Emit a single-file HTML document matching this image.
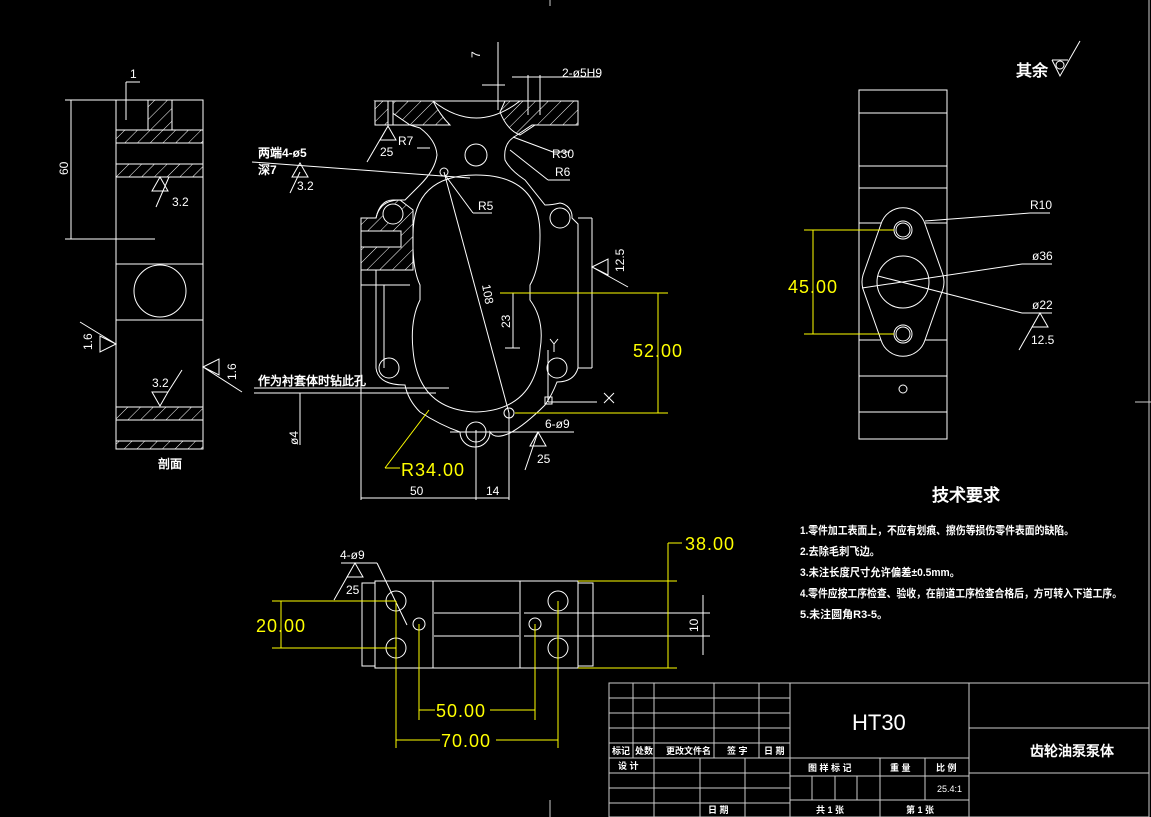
<!DOCTYPE html>
<html><head><meta charset="utf-8"><style>
html,body{margin:0;padding:0;background:#000;}
svg{display:block}
text{font-family:"Liberation Sans","Noto Sans CJK SC",sans-serif;fill:#fff}
.w{stroke:#fff;fill:none;stroke-width:1}
.g{stroke:#ccc;fill:none;stroke-width:1}
.y{stroke:#ff0;fill:none;stroke-width:1}
.yt{fill:#ff0;font-size:18px;letter-spacing:1px}
.s{font-size:12px}
.c{font-family:"Liberation Sans","WenQuanYi Zen Hei",sans-serif;font-weight:bold}
</style></head><body>
<svg width="1151" height="817" viewBox="0 0 1151 817" xmlns="http://www.w3.org/2000/svg">
<defs>
<pattern id="h" width="9" height="9" patternUnits="userSpaceOnUse" patternTransform="rotate(45)">
<line x1="0" y1="0" x2="0" y2="9" stroke="#fff" stroke-width="1"/></pattern>
</defs>
<rect width="1151" height="817" fill="#000"/>
<line x1="550" y1="0" x2="550" y2="6" class="g"/>
<line x1="550" y1="800" x2="550" y2="817" class="g"/>
<line x1="1149" y1="0" x2="1149" y2="817" class="g"/>
<line x1="1135" y1="402" x2="1151" y2="402" class="g"/>

<!-- LEFT VIEW -->
<g class="w">
<rect x="116" y="100" width="87" height="349"/>
<rect x="116" y="130" width="87" height="13" fill="url(#h)"/>
<rect x="116" y="164" width="87" height="13" fill="url(#h)"/>
<path d="M148 100 V130 H172 V100 Z" fill="url(#h)"/>
<line x1="116" y1="264" x2="203" y2="264"/>
<line x1="116" y1="320" x2="203" y2="320"/>
<circle cx="160" cy="291" r="26"/>
<rect x="116" y="407" width="87" height="13" fill="url(#h)"/>
<rect x="116" y="441" width="87" height="8" fill="url(#h)"/>
<line x1="65" y1="100" x2="116" y2="100"/>
<line x1="65" y1="239" x2="155" y2="239"/>
<line x1="71" y1="100" x2="71" y2="239"/>
<line x1="126" y1="82" x2="126" y2="120"/><line x1="126" y1="82" x2="140" y2="82"/>
<path d="M160 177 l-8 14 h16 z M156 207 L169 177"/>
<path d="M116 344 l-16 -8 v16 z M80 322 L116 344"/>
<path d="M203 367 l16 -8 v16 z M242 392 L203 367"/>
<path d="M160 406 l-8 -14 h16 z M168 392 L182 370"/>
</g>
<text x="130" y="78" class="s">1</text>
<text x="68" y="175" class="s" transform="rotate(-90 68 175)">60</text>
<text x="172" y="206" class="s">3.2</text>
<text x="92" y="350" class="s" transform="rotate(-90 92 350)">1.6</text>
<text x="236" y="380" class="s" transform="rotate(-90 236 380)">1.6</text>
<text x="152" y="387" class="s">3.2</text>
<text x="158" y="468" class="s c">剖面</text>

<!-- MIDDLE VIEW -->
<g class="w">
<path d="M375 101 H433 Q476 135 520 101 H578 V125 H532 L514 137 Q503 144 505 160 Q510 170 525 180 L545 205 Q552 205 560 203 A14 14 0 0 1 572 218 L578 224 V368 Q574 382 557 382 Q552 395 545 405 Q525 425 510 433 Q495 440 490 432 A12 12 0 0 1 460 432 Q440 425 420 412 Q408 400 405 385 Q378 385 376 368 V270 H361 V218 H376 Q380 200 393 200 L405 200 L420 185 Q435 170 437 155 Q436 140 420 128 L410 125 H375 Z"/>
<line x1="433" y1="101" x2="520" y2="101"/>
<path d="M375 101 H433 Q440 115 450 125 H410 Z" fill="url(#h)"/>
<rect x="375" y="101" width="18" height="24" fill="#000"/>
<path d="M375 101 H388 V125 H375 Z" fill="url(#h)"/>
<path d="M505 101 H578 V125 H535 L520 135 Q507 130 500 112 Z" fill="url(#h)"/>
<path d="M361 218 H376 Q380 200 400 200 L413 210 V270 H361 Z" fill="url(#h)"/>
<rect x="361" y="231" width="40" height="16" fill="#000"/>
<rect x="361" y="231" width="40" height="16"/>
<circle cx="393" cy="214" r="10" fill="#000"/>
<path d="M476 175 Q540 175 540 235 Q540 268 530 285 V300 Q545 320 540 350 Q535 410 476 412 Q418 410 413 350 Q410 320 420 300 V285 Q412 268 413 235 Q413 175 476 175 Z"/>
<circle cx="476" cy="155" r="11"/>
<circle cx="560" cy="218" r="10"/>
<circle cx="389" cy="368" r="10"/>
<circle cx="557" cy="368" r="10"/>
<circle cx="476" cy="432" r="10"/>
<circle cx="509" cy="413" r="5"/>
<circle cx="444" cy="172" r="4"/>
<line x1="361" y1="270" x2="361" y2="500"/>
<line x1="384" y1="285" x2="384" y2="368"/>
<line x1="361" y1="285" x2="410" y2="285"/>
<line x1="578" y1="218" x2="592" y2="218"/>
<line x1="592" y1="218" x2="592" y2="368"/>
<line x1="578" y1="368" x2="592" y2="368"/>
<line x1="509" y1="413" x2="509" y2="500"/>
<line x1="476" y1="430" x2="476" y2="500"/>
<line x1="444" y1="172" x2="509" y2="413"/>
<line x1="361" y1="498" x2="509" y2="498"/>
<line x1="500" y1="293" x2="520" y2="293"/><line x1="513" y1="293" x2="513" y2="348"/><line x1="505" y1="348" x2="520" y2="348"/>
<line x1="548" y1="350" x2="548" y2="402"/><line x1="548" y1="402" x2="597" y2="402"/>
<rect x="545" y="397" width="7" height="7"/>
<path d="M604 393 l10 10 M614 393 l-10 10 M550 339 l4 5 4 -5 M554 344 v8"/>
<line x1="498" y1="42" x2="498" y2="110"/><line x1="482" y1="85" x2="505" y2="85"/>
<line x1="512" y1="77" x2="600" y2="77"/><line x1="528" y1="75" x2="528" y2="115"/><line x1="540" y1="75" x2="540" y2="115"/>
<line x1="252" y1="162" x2="470" y2="178"/>
<path d="M300 163 l-8 14 h16 z M290 193 L300 172"/>
<line x1="417" y1="148" x2="430" y2="148"/>
<line x1="445" y1="175" x2="473" y2="213"/><line x1="473" y1="213" x2="492" y2="213"/>
<line x1="513" y1="137" x2="553" y2="152"/><line x1="553" y1="152" x2="570" y2="152"/>
<line x1="510" y1="150" x2="548" y2="180"/><line x1="548" y1="180" x2="570" y2="180"/>
<path d="M388 126 l-8 14 h16 z M367 162 L388 126"/>
<path d="M592 267 l16 -8 v16 z M628 287 L592 267"/>
<path d="M538 432 l-8 14 h16 z M525 470 L538 432"/>
<line x1="450" y1="432" x2="574" y2="432"/>
<line x1="254" y1="388" x2="449" y2="388"/><line x1="254" y1="393" x2="436" y2="393"/>
<line x1="300" y1="393" x2="300" y2="445"/>
</g>
<g class="y">
<line x1="500" y1="293" x2="668" y2="293"/>
<line x1="515" y1="413" x2="668" y2="413"/>
<line x1="658" y1="293" x2="658" y2="413"/>
<line x1="429" y1="410" x2="385" y2="468"/><line x1="385" y1="468" x2="400" y2="468"/>
</g>
<text x="490" y="48" class="s" transform="rotate(-90 490 58)">7</text>
<text x="562" y="77" class="s">2-ø5H9</text>
<text x="398" y="145" class="s">R7</text>
<text x="380" y="156" class="s">25</text>
<text x="552" y="158" class="s">R30</text>
<text x="555" y="176" class="s">R6</text>
<text x="478" y="210" class="s">R5</text>
<text x="258" y="157" class="s c">两端4-ø5</text>
<text x="258" y="174" class="s c">深7</text>
<text x="297" y="190" class="s">3.2</text>
<text x="482" y="285" class="s" transform="rotate(80 482 285)">108</text>
<text x="510" y="328" class="s" transform="rotate(-90 510 328)">23</text>
<text x="624" y="272" class="s" transform="rotate(-90 624 272)">12.5</text>
<text x="258" y="385" class="s c">作为衬套体时钻此孔</text>
<text x="298" y="445" class="s" transform="rotate(-90 298 445)">ø4</text>
<text x="545" y="428" class="s">6-ø9</text>
<text x="537" y="463" class="s">25</text>
<text x="410" y="495" class="s">50</text>
<text x="486" y="495" class="s">14</text>
<text x="401" y="476" class="yt">R34.00</text>
<text x="633" y="357" class="yt">52.00</text>

<!-- RIGHT VIEW -->
<g class="w">
<rect x="859" y="90" width="88" height="349"/>
<line x1="859" y1="113" x2="947" y2="113"/>
<line x1="859" y1="166" x2="947" y2="166"/>
<line x1="859" y1="188" x2="947" y2="188"/>
<line x1="859" y1="223" x2="947" y2="223"/>
<line x1="859" y1="340" x2="947" y2="340"/>
<line x1="859" y1="376" x2="947" y2="376"/>
<line x1="859" y1="412" x2="947" y2="412"/>
<path d="M881 224 A23 23 0 0 1 925 224 L943 275 Q945 282 943 289 L925 340 A23 23 0 0 1 881 340 L863 289 Q861 282 863 275 Z" fill="#000"/>
<circle cx="903" cy="230" r="9"/><circle cx="903" cy="230" r="7"/>
<circle cx="903" cy="334" r="9"/><circle cx="903" cy="334" r="7"/>
<circle cx="903" cy="282" r="26"/>
<circle cx="903" cy="389" r="4"/>
<line x1="925" y1="221" x2="1030" y2="213"/><line x1="1030" y1="213" x2="1050" y2="213"/>
<line x1="862" y1="288" x2="1022" y2="264"/><line x1="1022" y1="264" x2="1052" y2="264"/>
<line x1="878" y1="276" x2="1022" y2="313"/><line x1="1022" y1="313" x2="1052" y2="313"/>
<path d="M1040 313 l-8 14 h16 z M1019 350 L1040 313"/>
<path d="M1052 60 L1060 76 L1080 41 M1052 60 L1068 60"/>
<circle cx="1060" cy="65" r="4"/>
</g>
<g class="y">
<line x1="804" y1="230" x2="894" y2="230"/>
<line x1="804" y1="334" x2="894" y2="334"/>
<line x1="813" y1="230" x2="813" y2="334"/>
</g>
<text x="1030" y="209" class="s">R10</text>
<text x="1032" y="260" class="s">ø36</text>
<text x="1032" y="309" class="s">ø22</text>
<text x="1031" y="344" class="s">12.5</text>
<text x="788" y="293" class="yt">45.00</text>
<text x="1016" y="76" class="c" style="font-size:16px">其余</text>

<!-- BOTTOM VIEW -->
<g class="w">
<rect x="375" y="581" width="203" height="87"/>
<rect x="362" y="583" width="13" height="83"/>
<rect x="578" y="583" width="15" height="83"/>
<line x1="433" y1="581" x2="433" y2="668"/>
<line x1="520" y1="581" x2="520" y2="668"/>
<line x1="434" y1="613" x2="519" y2="613"/><line x1="434" y1="636" x2="519" y2="636"/>
<line x1="524" y1="613" x2="710" y2="613"/><line x1="524" y1="636" x2="710" y2="636"/>
<line x1="703" y1="595" x2="703" y2="655"/>
<circle cx="396" cy="601" r="10"/><circle cx="396" cy="648" r="10"/>
<circle cx="558" cy="601" r="10"/><circle cx="558" cy="648" r="10"/>
<circle cx="419" cy="624" r="6"/><circle cx="535" cy="624" r="6"/>
<line x1="341" y1="563" x2="377" y2="563"/><line x1="377" y1="563" x2="407" y2="625"/>
<path d="M355 563 l-8 14 h16 z M334 600 L355 563"/>
</g>
<g class="y">
<line x1="272" y1="601" x2="396" y2="601"/><line x1="272" y1="648" x2="396" y2="648"/>
<line x1="281" y1="601" x2="281" y2="648"/>
<line x1="578" y1="581" x2="677" y2="581"/><line x1="578" y1="668" x2="677" y2="668"/>
<line x1="668" y1="543" x2="668" y2="668"/><line x1="668" y1="543" x2="682" y2="543"/>
<line x1="419" y1="624" x2="419" y2="720"/><line x1="535" y1="624" x2="535" y2="720"/>
<line x1="419" y1="710" x2="435" y2="710"/><line x1="490" y1="710" x2="535" y2="710"/>
<line x1="396" y1="601" x2="396" y2="748"/><line x1="558" y1="601" x2="558" y2="748"/>
<line x1="396" y1="740" x2="440" y2="740"/><line x1="496" y1="740" x2="558" y2="740"/>
</g>
<text x="340" y="559" class="s">4-ø9</text>
<text x="346" y="594" class="s">25</text>
<text x="698" y="632" class="s" transform="rotate(-90 698 632)">10</text>
<text x="256" y="632" class="yt">20.00</text>
<text x="685" y="550" class="yt">38.00</text>
<text x="436" y="717" class="yt">50.00</text>
<text x="441" y="747" class="yt">70.00</text>

<!-- TECH REQUIREMENTS -->
<text x="932" y="501" class="c" style="font-size:17px">技术要求</text>
<g class="c" style="font-size:11px">
<text x="800" y="534" textLength="274" lengthAdjust="spacingAndGlyphs">1.零件加工表面上，不应有划痕、擦伤等损伤零件表面的缺陷。</text>
<text x="800" y="555" textLength="80" lengthAdjust="spacingAndGlyphs">2.去除毛刺飞边。</text>
<text x="800" y="576" textLength="160" lengthAdjust="spacingAndGlyphs">3.未注长度尺寸允许偏差±0.5mm。</text>
<text x="800" y="597" textLength="322" lengthAdjust="spacingAndGlyphs">4.零件应按工序检查、验收，在前道工序检查合格后，方可转入下道工序。</text>
<text x="800" y="618" textLength="88" lengthAdjust="spacingAndGlyphs">5.未注圆角R3-5。</text>
</g>

<!-- TITLE BLOCK -->
<g class="g">
<rect x="609" y="683" width="540" height="134"/>
<line x1="609" y1="698" x2="790" y2="698"/>
<line x1="609" y1="713" x2="790" y2="713"/>
<line x1="609" y1="728" x2="790" y2="728"/>
<line x1="609" y1="743" x2="790" y2="743"/>
<line x1="609" y1="758" x2="969" y2="758"/>
<line x1="609" y1="773" x2="790" y2="773"/>
<line x1="609" y1="788" x2="790" y2="788"/>
<line x1="609" y1="803" x2="790" y2="803"/>
<line x1="633" y1="683" x2="633" y2="758"/>
<line x1="654" y1="683" x2="654" y2="817"/>
<line x1="714" y1="683" x2="714" y2="758"/>
<line x1="759" y1="683" x2="759" y2="758"/>
<line x1="700" y1="758" x2="700" y2="817"/>
<line x1="745" y1="758" x2="745" y2="817"/>
<line x1="790" y1="683" x2="790" y2="817"/>
<line x1="969" y1="683" x2="969" y2="817"/>
<line x1="790" y1="776" x2="969" y2="776"/>
<line x1="790" y1="800" x2="969" y2="800"/>
<line x1="880" y1="758" x2="880" y2="817"/>
<line x1="925" y1="758" x2="925" y2="800"/>
<line x1="812" y1="776" x2="812" y2="800"/>
<line x1="835" y1="776" x2="835" y2="800"/>
<line x1="857" y1="776" x2="857" y2="800"/>
<line x1="969" y1="728" x2="1149" y2="728"/>
<line x1="969" y1="773" x2="1149" y2="773"/>
</g>
<text x="852" y="730" style="font-size:22px">HT30</text>
<text x="1030" y="756" class="c" style="font-size:14px">齿轮油泵泵体</text>
<g class="c" style="font-size:9px">
<text x="612" y="754">标记</text><text x="635" y="754">处数</text><text x="666" y="754">更改文件名</text>
<text x="727" y="754">签 字</text><text x="764" y="754">日 期</text>
<text x="618" y="769">设 计</text><text x="708" y="813">日 期</text>
<text x="808" y="771">图 样 标 记</text><text x="890" y="771">重 量</text><text x="936" y="771">比 例</text>
<text x="816" y="813">共 1 张</text><text x="906" y="813">第 1 张</text>
</g>
<text x="937" y="792" style="font-size:9px">25.4:1</text>
</svg>
</body></html>
